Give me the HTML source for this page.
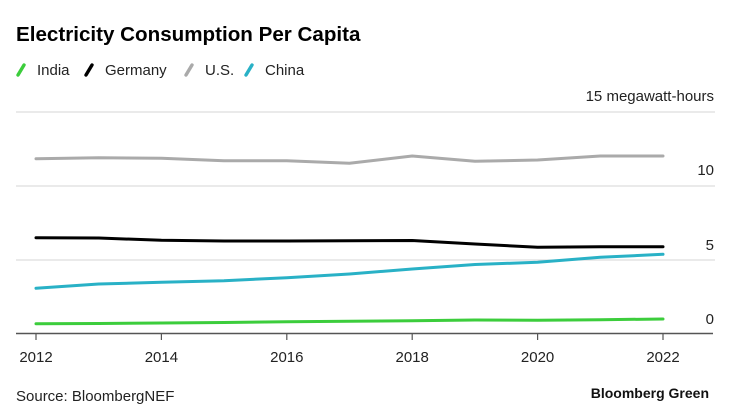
<!DOCTYPE html>
<html><head><meta charset="utf-8"><style>
html,body{margin:0;padding:0;background:#fff;}
svg{display:block;font-family:"Liberation Sans",Arial,sans-serif;}
</style></head><body>
<svg width="734" height="419" viewBox="0 0 734 419" xmlns="http://www.w3.org/2000/svg">
<rect width="734" height="419" fill="#fff"/>
<text x="16" y="41" font-size="20.6" font-weight="bold" fill="#000">Electricity Consumption Per Capita</text>
<g font-size="15" fill="#222">
<line x1="18" y1="75" x2="24" y2="65" stroke="#3ccd3c" stroke-width="3.4" stroke-linecap="round"/>
<text x="37" y="75">India</text>
<line x1="86" y1="75" x2="92" y2="65" stroke="#000" stroke-width="3.4" stroke-linecap="round"/>
<text x="105" y="75">Germany</text>
<line x1="186" y1="75" x2="192" y2="65" stroke="#aaa" stroke-width="3.4" stroke-linecap="round"/>
<text x="205" y="75">U.S.</text>
<line x1="246" y1="75" x2="252" y2="65" stroke="#29b1c6" stroke-width="3.4" stroke-linecap="round"/>
<text x="265" y="75">China</text>
</g>
<g stroke="#ddd" stroke-width="1.2">
<line x1="16" y1="112" x2="715" y2="112"/>
<line x1="16" y1="186" x2="715" y2="186"/>
<line x1="16" y1="260" x2="715" y2="260"/>
</g>
<g font-size="15" fill="#222" text-anchor="end">
<text x="714" y="101">15 megawatt-hours</text>
<text x="714" y="175">10</text>
<text x="714" y="250">5</text>
<text x="714" y="324">0</text>
</g>
<g fill="none" stroke-width="3" stroke-linejoin="round" stroke-linecap="round">
<polyline stroke="#aaa" points="36,158.7 98.7,157.7 161.4,158.3 224,160.7 286.8,160.7 349.5,163.3 412.2,156 475,161.3 537.6,160 600.3,156 663,156"/>
<polyline stroke="#000" points="36,237.7 98.7,238 161.4,240.3 224,241 286.8,241 349.5,240.8 412.2,240.5 475,244 537.6,247.3 600.3,246.7 663,246.7"/>
<polyline stroke="#29b1c6" points="36,288.3 98.7,284 161.4,282.3 224,280.7 286.8,277.7 349.5,274 412.2,269 475,264.5 537.6,262.3 600.3,257.3 663,254.3"/>
<polyline stroke="#3ccd3c" points="36,323.7 98.7,323.5 161.4,323 224,322.5 286.8,321.7 349.5,321.2 412.2,320.7 475,320 537.6,320.3 600.3,319.7 663,319"/>
</g>
<line x1="16" y1="333.5" x2="713" y2="333.5" stroke="#555" stroke-width="1.5"/>
<g stroke="#555" stroke-width="1.2">
<line x1="36" y1="333" x2="36" y2="340"/>
<line x1="161.4" y1="333" x2="161.4" y2="340"/>
<line x1="286.8" y1="333" x2="286.8" y2="340"/>
<line x1="412.2" y1="333" x2="412.2" y2="340"/>
<line x1="537.6" y1="333" x2="537.6" y2="340"/>
<line x1="663" y1="333" x2="663" y2="340"/>
</g>
<g font-size="15" fill="#222" text-anchor="middle">
<text x="36" y="362">2012</text>
<text x="161.4" y="362">2014</text>
<text x="286.8" y="362">2016</text>
<text x="412.2" y="362">2018</text>
<text x="537.6" y="362">2020</text>
<text x="663" y="362">2022</text>
</g>
<text x="16" y="401" font-size="15" fill="#222">Source: BloombergNEF</text>
<text x="709" y="398" font-size="14" font-weight="bold" fill="#111" text-anchor="end">Bloomberg Green</text>
</svg>
</body></html>
